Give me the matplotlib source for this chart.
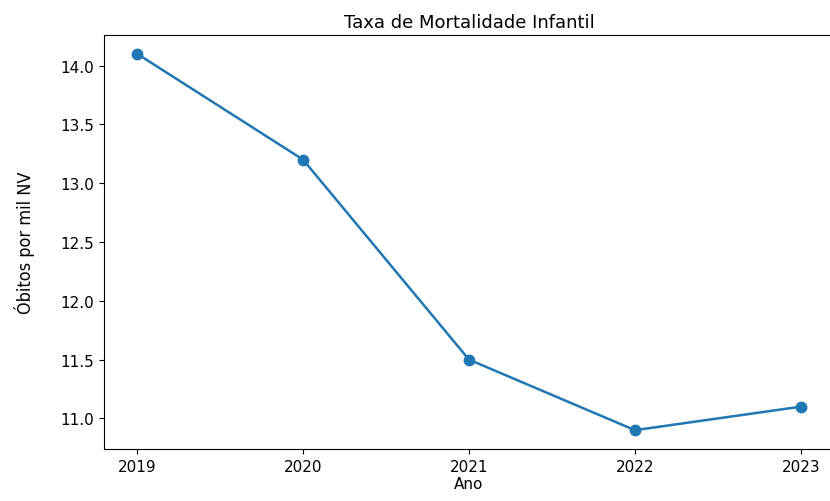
import matplotlib
matplotlib.use("Agg")
import matplotlib.pyplot as plt

anos = [2019, 2020, 2021, 2022, 2023]
taxa = [14.1, 13.2, 11.5, 10.9, 11.1]

fig = plt.figure(figsize=(8.3, 5.02), dpi=100)
# a borda direita do eixo fica fora da figura, como no original (cortado)
ax = fig.add_axes([104/830, 52/502, 730/830, 414/502])
ax.plot(anos, taxa, marker='o', color='#1f77b4', linewidth=1.8, markersize=7.5)
ax.spines['right'].set_visible(False)
ax.set_xticks(anos)
ax.tick_params(labelsize=11)
ax.set_title("Taxa de Mortalidade Infantil", fontsize=13)
ax.set_xlabel("Ano", fontsize=11, labelpad=2)
ax.set_ylabel("Óbitos por mil NV", fontsize=13, family='DejaVu Sans',
              fontstretch='condensed', labelpad=18)

fig.savefig("out.png", dpi=100)
